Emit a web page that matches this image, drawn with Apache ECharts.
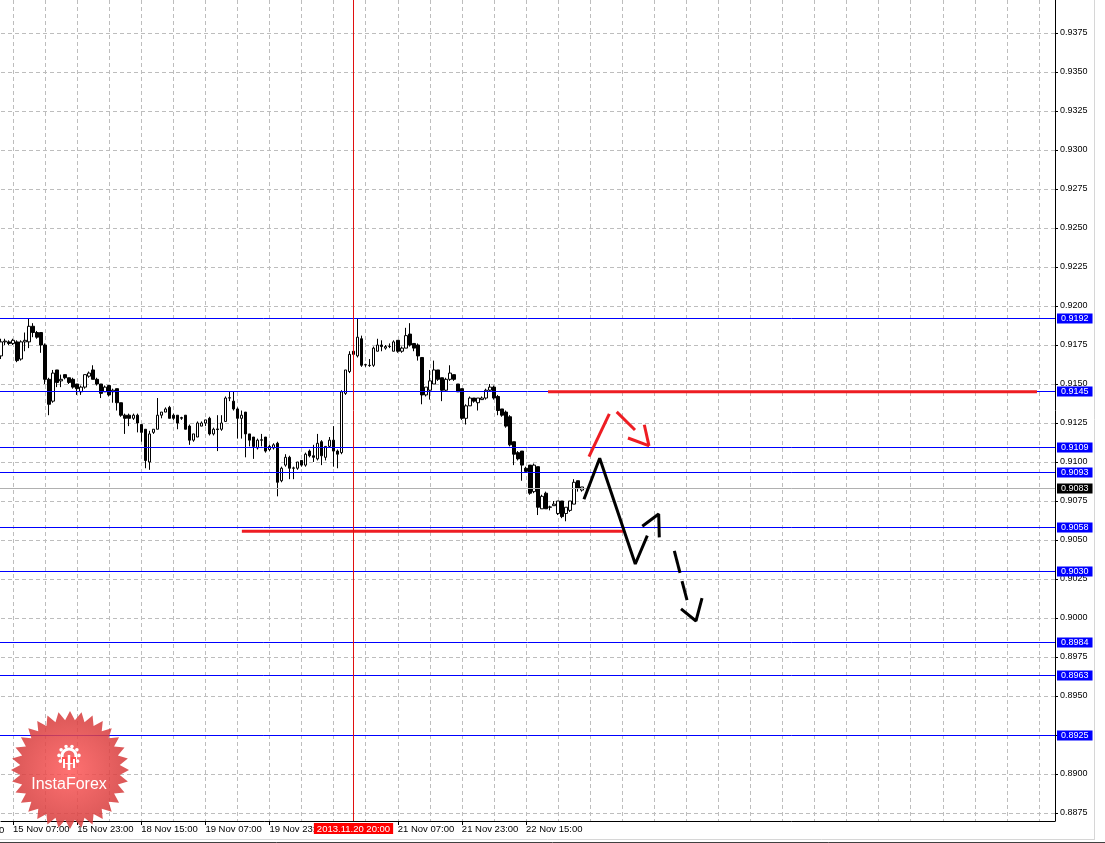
<!DOCTYPE html>
<html><head><meta charset="utf-8">
<script src="https://cdn.jsdelivr.net/npm/echarts@6/dist/echarts.min.js"></script>
<style>html,body{margin:0;padding:0;background:#fff}#c{width:1105px;height:843px}</style>
</head><body><div id="c"></div><script>
// ---- data (H1 candles from 15 Nov 2013 04:00) ----
const opens = [
0.9168,0.9177,0.9177,0.9176,0.9177,0.9166,0.9177,0.9177,0.9187,0.9183,
0.9183,0.9175,0.9153,0.9139,0.9159,0.9152,0.9156,0.9154,0.9153,0.9150,
0.9145,0.9148,0.9155,0.9159,0.9153,0.9150,0.9145,0.9149,0.9145,0.9147,
0.9138,0.9130,0.9130,0.9128,0.9130,0.9124,0.9121,0.9100,0.9119,0.9121,
0.9130,0.9132,0.9135,0.9130,0.9130,0.9128,0.9130,0.9123,0.9114,0.9116,
0.9123,0.9125,0.9128,0.9118,0.91212,0.9121,0.9126,0.9141,0.9139,0.9134,
0.9128,0.9132,0.9118,0.9116,0.9109,0.91142,0.9116,0.9108,0.9109,0.9112,
0.9088,0.9098,0.9103,0.9096,0.9096,0.9101,0.9098,0.9107,0.9104,0.9102,
0.9113,0.9103,0.9110,0.9114,0.9107,0.9106,0.9144,0.9158,0.9171,0.9168,
0.9179,0.91622,0.9162,0.9162,0.9171,0.9175,0.9173,0.9174,0.9171,0.9178,
0.9171,0.9173,0.9182,0.9176,0.9175,0.9167,0.9143,0.9146,0.9150,0.9159,
0.9154,0.9146,0.9153,0.9156,0.9150,0.9147,0.9128,0.9136,0.9141,0.9138,
0.9140,0.9141,0.9146,0.9148,0.9142,0.9134,0.9132,0.9129,0.9113,0.9106,
0.9107,0.9096,0.9098,0.9081,0.9097,0.9070,0.9080,0.9071,0.9072,0.9067,
0.9075,0.9067,0.9069,0.9073,0.9088,0.9082];
const closes = [
0.9177,0.91775,0.9176,0.9178,0.9165,0.9177,0.9178,0.9187,0.9183,0.9180,
0.9175,0.9153,0.9137,0.9157,0.9151,0.9153,0.9154,0.9151,0.9148,0.9147,
0.9148,0.9156,0.9157,0.9153,0.9150,0.9144,0.9148,0.9143,0.9146,0.9138,
0.9130,0.9128,0.9128,0.9130,0.9125,0.9119,0.9101,0.9118,0.9121,0.9130,
0.9132,0.9134,0.9128,0.9128,0.9125,0.91285,0.9121,0.9114,0.9118,0.9125,
0.9125,0.9127,0.9118,0.9121,0.91208,0.9125,0.9141,0.91412,0.9134,0.9128,
0.9130,0.9118,0.9114,0.9110,0.9114,0.9114,0.9107,0.9110,0.9111,0.9087,
0.9096,0.9103,0.9096,0.90962,0.9100,0.9098,0.9105,0.9104,0.9103,0.9112,
0.9104,0.9110,0.9114,0.9107,0.9105,0.9145,0.9159,0.9169,0.9169,0.9180,
0.9162,0.91624,0.91618,0.9173,0.9175,0.9174,0.9174,0.91742,0.9177,0.9171,
0.9173,0.9181,0.9175,0.9173,0.9168,0.9143,0.9148,0.9152,0.9159,0.9153,
0.9146,0.9153,0.9157,0.9153,0.9145,0.9128,0.9136,0.9141,0.9139,0.9141,
0.9141,0.9146,0.9148,0.9141,0.9133,0.9130,0.9123,0.9111,0.9105,0.9102,
0.9098,0.9094,0.9080,0.9098,0.9071,0.9078,0.9070,0.90712,0.9073,0.9075,
0.9065,0.9071,0.9075,0.9087,0.9083,0.9084];
const lows = [
0.9166,0.9175,0.9175,0.9175,0.9164,0.9165,0.9171,0.9173,0.9180,0.9179,
0.9170,0.9150,0.9130,0.9138,0.9148,0.9148,0.9153,0.9150,0.9147,0.9143,
0.9143,0.9147,0.9154,0.9153,0.9149,0.9141,0.9145,0.9142,0.9138,0.9133,
0.9129,0.9118,0.9123,0.9127,0.9119,0.9113,0.9096,0.9095,0.9118,0.9121,
0.9128,0.9132,0.9128,0.9127,0.9121,0.9127,0.9121,0.9111,0.9113,0.9116,
0.9123,0.9123,0.9117,0.9117,0.9107,0.9120,0.9126,0.9139,0.9133,0.9115,
0.9115,0.9103,0.9110,0.9102,0.9108,0.9110,0.9106,0.9107,0.9108,0.9078,
0.9087,0.9097,0.9089,0.9089,0.9095,0.9097,0.9097,0.9103,0.9100,0.9101,
0.9098,0.9101,0.9109,0.9097,0.9096,0.9105,0.9143,0.9157,0.9168,0.9167,
0.9161,0.9161,0.9161,0.9161,0.9171,0.9171,0.9172,0.9173,0.9171,0.9170,
0.9170,0.9173,0.9174,0.9171,0.9165,0.9137,0.9142,0.9140,0.9150,0.9152,
0.9139,0.9145,0.9152,0.9152,0.9145,0.9127,0.9124,0.9136,0.9138,0.9133,
0.9140,0.9140,0.9145,0.9140,0.9130,0.9129,0.9122,0.9110,0.9098,0.9101,
0.9088,0.9093,0.9079,0.9080,0.9066,0.9070,0.9070,0.9069,0.9072,0.9066,
0.9064,0.9062,0.9068,0.9073,0.9081,0.9081];
const highs = [
0.9179,0.9179,0.9178,0.9179,0.9178,0.9178,0.9183,0.9192,0.9189,0.9184,
0.9183,0.9176,0.9154,0.9159,0.9159,0.9156,0.9156,0.9154,0.9154,0.9150,
0.9149,0.9156,0.9158,0.9162,0.9154,0.9150,0.9149,0.9149,0.9147,0.9147,
0.9138,0.9131,0.9131,0.9131,0.9131,0.9124,0.9121,0.9120,0.9121,0.9141,
0.9132,0.9135,0.9136,0.9131,0.9130,0.9129,0.9130,0.9124,0.9118,0.9126,
0.9126,0.9127,0.9129,0.9122,0.9130,0.9130,0.9142,0.9145,0.9145,0.9135,
0.9133,0.9132,0.9118,0.9116,0.9115,0.9118,0.9116,0.9111,0.9112,0.9113,
0.9097,0.9105,0.9104,0.9097,0.9100,0.9101,0.9106,0.9108,0.9111,0.9118,
0.9114,0.9110,0.9116,0.9123,0.9108,0.9146,0.9159,0.9171,0.9172,0.9192,
0.9181,0.9163,0.9166,0.9174,0.9179,0.9178,0.9175,0.9176,0.9178,0.9178,
0.9174,0.9186,0.9189,0.9176,0.9176,0.9167,0.9148,0.9159,0.9165,0.9159,
0.9154,0.9154,0.9162,0.9156,0.9150,0.9147,0.9137,0.9142,0.9141,0.9141,
0.9142,0.9147,0.9150,0.9149,0.9143,0.9134,0.9133,0.9130,0.9113,0.9107,
0.9107,0.9097,0.9098,0.9099,0.9097,0.9079,0.9081,0.9072,0.9075,0.9075,
0.9075,0.9071,0.9075,0.9089,0.9088,0.9084];

const xTickLabels = ['15 Nov 07:00','15 Nov 23:00','18 Nov 15:00','19 Nov 07:00',
  '19 Nov 23:00','21 Nov 07:00','21 Nov 23:00','22 Nov 15:00'];
const levelLines = [0.9192, 0.9145, 0.9109, 0.9093, 0.9058, 0.9030, 0.8984, 0.8963, 0.8925];
const bidPrice = 0.9083;
const markerTime = '20 Nov 20:00';
const markerLabel = '2013.11.20 20:00';
// thick red levels: [price, from bar, to bar]
const redLevels = [[0.9145, 136.5, 258.5], [0.90556, 60.1, 155.3]];
// hand-drawn forecast strokes: [bar index, price]
const redPaths = [
  [[146.72,0.91034],[151.79,0.91308]],
  [[153.63,0.91321],[158.20,0.91205]],
  [[160.52,0.91239],[161.69,0.91103]],
  [[156.45,0.91154],[161.76,0.91103]]];
const blackPaths = [
  [[145.47,0.90761],[149.39,0.91024],[158.27,0.90346],[161.27,0.90528]],
  [[160.02,0.90588],[164.11,0.90667],[164.26,0.90517]],
  [[168.01,0.90430],[169.43,0.90289]],
  [[169.93,0.90237],[171.18,0.90115]],
  [[169.68,0.90058],[173.42,0.89981],[174.92,0.90128]]];

// ---- categories: hourly bars, weekends skipped ----
const MONTHS = ['Jan','Feb','Mar','Apr','May','Jun','Jul','Aug','Sep','Oct','Nov','Dec'];
const NBARS = 264;
const categories = [];
(function(){
  let t = Date.UTC(2013, 10, 15, 4);
  while (categories.length < NBARS) {
    const d = new Date(t), wd = d.getUTCDay();
    if (wd !== 0 && wd !== 6) {
      const h = d.getUTCHours();
      categories.push(d.getUTCDate() + ' ' + MONTHS[d.getUTCMonth()] + ' ' + (h < 10 ? '0' : '') + h + ':00');
    }
    t += 3600000;
  }
})();

const candles = opens.map((o, i) => [o, closes[i], lows[i], highs[i]]);
const FONT = 'Liberation Sans';

const series = [];
series.push({
  type: 'candlestick', xAxisIndex: 0, yAxisIndex: 0, data: candles, barWidth: 3, clip: false,
  itemStyle: {color: '#ffffff', color0: '#000000', borderColor: '#000000', borderColor0: '#000000', borderWidth: 1},
  z: 3
});

// horizontal level lines with price boxes (pixel-snapped, via axis scale)
const levelItems = [[0, bidPrice, 1]].concat(levelLines.map(v => [0, v, 0]));
series.push({
  type: 'custom', xAxisIndex: 1, yAxisIndex: 0, data: levelItems, z: 4, silent: true, clip: false,
  renderItem: function (params, api) {
    const v = api.value(1), isBid = api.value(2) === 1;
    const p0 = api.coord([0, v]), p1 = api.coord([NBARS - 1, v]);
    const yy = Math.floor(p0[1]) + 0.5;
    const col = isBid ? '#000000' : '#0000ff';
    return {type: 'group', children: [
      {type: 'line', z2: isBid ? 1 : 2, shape: {x1: p0[0] - 1, y1: yy, x2: p1[0], y2: yy},
        style: {stroke: isBid ? '#b0b0b0' : '#0000ff', lineWidth: 1}},
      {type: 'text', z2: 10, x: p1[0] + 2, y: yy,
        style: {text: v.toFixed(4), fill: '#fff', font: '9px "Liberation Sans"',
          backgroundColor: col, padding: [1, 4, 0, 4],
          align: 'left', verticalAlign: 'middle', textAlign: 'left', textVerticalAlign: 'middle'}}
    ]};
  }
});
redLevels.forEach(r => series.push({
  type: 'line', xAxisIndex: 1, yAxisIndex: 0, data: [[r[1], r[0]], [r[2], r[0]]],
  symbol: 'none', lineStyle: {color: '#ee1d23', width: 3}, z: 6, silent: true
}));
redPaths.forEach(p => series.push({
  type: 'line', xAxisIndex: 1, yAxisIndex: 0, data: p, symbol: 'none',
  lineStyle: {color: '#ee1d23', width: 3}, z: 6, silent: true
}));
blackPaths.forEach(p => series.push({
  type: 'line', xAxisIndex: 1, yAxisIndex: 0, data: p, symbol: 'none',
  lineStyle: {color: '#000', width: 3}, z: 6, silent: true
}));
// vertical time marker with its date box
series.push({
  type: 'custom', xAxisIndex: 2, yAxisIndex: 1, data: [[categories.indexOf(markerTime), 0]],
  z: 7, silent: true, clip: false,
  renderItem: function (params, api) {
    const b = api.coord([api.value(0), 0]), t = api.coord([api.value(0), 1]);
    const xx = Math.floor(b[0]) + 0.5;
    return {type: 'group', children: [
      {type: 'line', shape: {x1: xx, y1: t[1], x2: xx, y2: b[1]}, style: {stroke: '#e01010', lineWidth: 1}},
      {type: 'text', z2: 10, x: xx, y: b[1] + 2,
        style: {text: markerLabel, fill: '#fff', font: '9.5px "Liberation Sans"',
          backgroundColor: '#ff0000', padding: [1, 3, 0, 3],
          align: 'center', verticalAlign: 'top', textAlign: 'center', textVerticalAlign: 'top'}}
    ]};
  }
});

// logo star
const starPts = [];
(function(){
  const cx = 70, cy = 770, ro = 59, ri = 50, n = 32;
  for (let k = 0; k < 2 * n; k++) {
    const r = k % 2 ? ri : ro, a = k * Math.PI / n - Math.PI / 2;
    starPts.push([cx + r * Math.cos(a), cy + r * Math.sin(a)]);
  }
})();
const gearTeeth = [];
for (let k = 0; k < 8; k++) {
  const a = -Math.PI / 2 + (k - 3.5) * Math.PI / 5.2;
  gearTeeth.push({type: 'circle', z: 101, shape: {cx: 69 + 10 * Math.cos(a), cy: 756 + 10 * Math.sin(a), r: 1.8}, style: {fill: '#fff'}});
}

const option = {
  animation: false,
  backgroundColor: '#ffffff',
  grid: [
    {left: 1, right: 50, top: -6, height: 858, outerBoundsMode: 'none', containLabel: false},
    {left: 1, right: 50, top: 0, bottom: 22, outerBoundsMode: 'none', containLabel: false}
  ],
  xAxis: [
    {type: 'category', gridIndex: 0, data: categories, boundaryGap: false, show: false},
    {type: 'value', gridIndex: 0, min: 0, max: NBARS - 1, show: false},
    {type: 'category', gridIndex: 1, data: categories, boundaryGap: false,
      axisLine: {onZero: false, lineStyle: {color: '#000', width: 1}},
      axisTick: {show: true, length: 4, interval: (i, v) => xTickLabels.indexOf(v) >= 0, lineStyle: {color: '#000'}},
      axisLabel: {interval: (i, v) => xTickLabels.indexOf(v) >= 0, align: 'left', margin: 3,
        fontSize: 9.5, fontFamily: FONT, color: '#000'},
      splitLine: {show: true, interval: i => i >= 3 && (i - 3) % 8 === 0,
        lineStyle: {color: '#bdbdbd', width: 1, type: [4, 3]}}}
  ],
  yAxis: [
    {type: 'value', gridIndex: 0, position: 'right', min: 0.885, max: 0.94, interval: 0.0025,
      axisLine: {show: false, onZero: false},
      axisTick: {show: true, length: 3, lineStyle: {color: '#000'}},
      axisLabel: {formatter: v => v.toFixed(4), margin: 5, fontSize: 9, fontFamily: FONT, color: '#000'},
      splitLine: {show: true, lineStyle: {color: '#bdbdbd', width: 1, type: [4, 3]}}},
    {type: 'value', gridIndex: 1, position: 'right', min: 0, max: 1,
      axisLine: {show: true, onZero: false, lineStyle: {color: '#000', width: 1}},
      axisTick: {show: false}, axisLabel: {show: false}, splitLine: {show: false}}
  ],
  graphic: [
    {type: 'line', z: 50, shape: {x1: 1094.5, y1: 0, x2: 1094.5, y2: 839}, style: {stroke: '#d6d6d6', lineWidth: 1}},
    {type: 'line', z: 50, shape: {x1: 0, y1: 839.5, x2: 1095, y2: 839.5}, style: {stroke: '#d6d6d6', lineWidth: 1}},
    {type: 'line', z: 50, shape: {x1: 0, y1: 842.5, x2: 1105, y2: 842.5}, style: {stroke: '#404040', lineWidth: 1}},
    {type: 'text', z: 50, x: -1, y: 825, style: {text: '0', font: '9.5px "Liberation Sans"', fill: '#000'}},
    {type: 'polygon', z: 100, shape: {points: starPts},
      style: {opacity: 0.85, fill: {type: 'radial', x: 0.5, y: 0.5, r: 0.5,
        colorStops: [{offset: 0, color: '#ff5858'}, {offset: 1, color: '#d43a3a'}]}}},
    {type: 'circle', z: 101, shape: {cx: 69, cy: 756, r: 7}, style: {fill: 'none', stroke: '#fff', lineWidth: 3}},
    ...gearTeeth,
    {type: 'rect', z: 102, shape: {x: 62, y: 757, width: 14, height: 6}, style: {fill: '#ff5050'}},
    {type: 'line', z: 103, shape: {x1: 69, y1: 755, x2: 69, y2: 770}, style: {stroke: '#fff', lineWidth: 2.5}},
    {type: 'line', z: 103, shape: {x1: 64, y1: 759, x2: 64, y2: 768}, style: {stroke: '#fff', lineWidth: 2}},
    {type: 'line', z: 103, shape: {x1: 74, y1: 759, x2: 74, y2: 768}, style: {stroke: '#fff', lineWidth: 2}},
    {type: 'text', z: 103, x: 69, y: 785, style: {text: 'InstaForex', font: '16px "Liberation Sans"', fill: '#fff',
      align: 'center', verticalAlign: 'middle', textAlign: 'center', textVerticalAlign: 'middle'}}
  ],
  series: series
};
const chart = echarts.init(document.getElementById('c'), null, {renderer: 'canvas'});
chart.setOption(option);
</script></body></html>
